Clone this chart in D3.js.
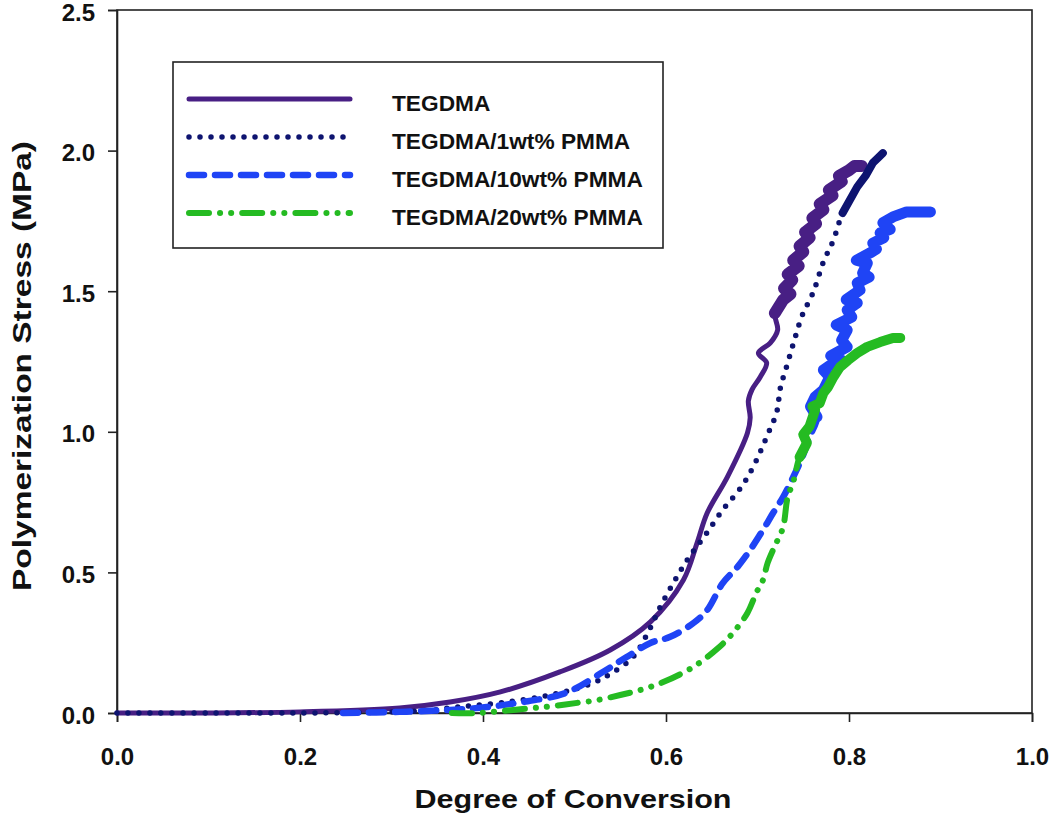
<!DOCTYPE html>
<html>
<head>
<meta charset="utf-8">
<script src="https://cdn.jsdelivr.net/npm/d3@7"></script>
<style>
  html, body { margin: 0; padding: 0; background: #fff; }
  svg { display: block; font-family: "Liberation Sans", Arial, sans-serif; }
</style>
</head>
<body>
<svg id="chart" width="1050" height="836"></svg>
<script>
// ---------------- data ----------------
const seriesNames = ["TEGDMA", "TEGDMA/1wt% PMMA", "TEGDMA/10wt% PMMA", "TEGDMA/20wt% PMMA"];
const xTicks = [0.0, 0.2, 0.4, 0.6, 0.8, 1.0];
const yTicks = [0.0, 0.5, 1.0, 1.5, 2.0, 2.5];

const tegdmaX = [0, 0.1, 0.2, 0.309, 0.364, 0.419, 0.484, 0.539, 0.583, 0.619, 0.634, 0.645, 0.667, 0.689, 0.692, 0.690, 0.694, 0.703, 0.710, 0.701, 0.714, 0.722, 0.719, 0.728, 0.736, 0.729, 0.738, 0.733, 0.745, 0.739, 0.750, 0.746, 0.757, 0.752, 0.764, 0.760, 0.772, 0.768, 0.782, 0.778, 0.792, 0.789, 0.800, 0.806, 0.814];
const tegdmaY = [0, 0.0, 0.004, 0.018, 0.039, 0.075, 0.146, 0.224, 0.324, 0.473, 0.605, 0.711, 0.839, 0.996, 1.05, 1.11, 1.15, 1.195, 1.245, 1.280, 1.316, 1.362, 1.422, 1.469, 1.49, 1.51, 1.54, 1.56, 1.59, 1.61, 1.64, 1.66, 1.69, 1.71, 1.74, 1.76, 1.79, 1.81, 1.84, 1.86, 1.89, 1.91, 1.93, 1.945, 1.945];

const pmma1X = [0, 0.1, 0.2, 0.331, 0.372, 0.419, 0.473, 0.515, 0.539, 0.564, 0.580, 0.593, 0.608, 0.624, 0.643, 0.662, 0.683, 0.698, 0.710, 0.721, 0.725, 0.733, 0.741, 0.749, 0.761, 0.772, 0.783, 0.793, 0.809, 0.818, 0.826, 0.832, 0.837];
const pmma1Y = [0, 0, 0, 0.007, 0.021, 0.036, 0.064, 0.100, 0.139, 0.199, 0.284, 0.373, 0.462, 0.548, 0.633, 0.722, 0.807, 0.893, 0.982, 1.070, 1.156, 1.245, 1.334, 1.415, 1.497, 1.604, 1.682, 1.778, 1.871, 1.91, 1.956, 1.975, 1.991];

const pmma10X = [0.247, 0.309, 0.364, 0.404, 0.437, 0.490, 0.531, 0.557, 0.583, 0.604, 0.630, 0.645, 0.662, 0.678, 0.692, 0.706, 0.717, 0.728, 0.739, 0.749, 0.757, 0.765, 0.758, 0.763, 0.772, 0.779, 0.772, 0.783, 0.792, 0.780, 0.798, 0.792, 0.798, 0.786, 0.803, 0.798, 0.809, 0.797, 0.812, 0.809, 0.822, 0.815, 0.820, 0.808, 0.823, 0.830, 0.826, 0.838, 0.834, 0.845, 0.837, 0.848, 0.863, 0.889];
const pmma10Y = [0, 0.004, 0.011, 0.021, 0.036, 0.071, 0.146, 0.199, 0.249, 0.270, 0.320, 0.366, 0.462, 0.519, 0.580, 0.651, 0.711, 0.768, 0.839, 0.910, 0.982, 1.053, 1.09, 1.124, 1.149, 1.195, 1.22, 1.245, 1.255, 1.27, 1.302, 1.326, 1.362, 1.38, 1.408, 1.433, 1.458, 1.47, 1.504, 1.529, 1.55, 1.565, 1.600, 1.61, 1.636, 1.65, 1.671, 1.69, 1.707, 1.72, 1.743, 1.764, 1.782, 1.782];

const pmma20X = [0.366, 0.393, 0.433, 0.455, 0.477, 0.503, 0.525, 0.550, 0.572, 0.597, 0.630, 0.657, 0.673, 0.689, 0.699, 0.706, 0.711, 0.717, 0.722, 0.728, 0.733, 0.739, 0.746, 0.754, 0.750, 0.757, 0.763, 0.760, 0.768, 0.772, 0.777, 0.783, 0.790, 0.799, 0.809, 0.820, 0.834, 0.848, 0.856];
const pmma20Y = [0, 0, 0.011, 0.018, 0.025, 0.036, 0.046, 0.064, 0.082, 0.110, 0.164, 0.231, 0.284, 0.356, 0.430, 0.473, 0.533, 0.580, 0.615, 0.661, 0.768, 0.821, 0.910, 0.960, 0.99, 1.02, 1.078, 1.09, 1.102, 1.138, 1.159, 1.195, 1.230, 1.255, 1.280, 1.302, 1.319, 1.334, 1.334];

const seriesX = [tegdmaX, pmma1X, pmma10X, pmma20X];
const seriesY = [tegdmaY, pmma1Y, pmma10Y, pmma20Y];

// ---------------- styles ----------------
const colors = ["#481f84", "#0e1470", "#1f44f5", "#25bb22"];
const widths = [5, 5.5, 6.5, 6];
const dashes = [null, "0 11", "15 11", "20 11 0.1 11 0.1 11"];
const noisyFrom = [1.44, 1.85, 1.08, 0.95];   // stress where the trace becomes a noisy band
const noisyWidth = [12, 8, 11, 10];

// ---------------- chart ----------------
const svg = d3.select("#chart");
const x = d3.scaleLinear().domain([0, 1]).range([117, 1032]);
const y = d3.scaleLinear().domain([0, 2.5]).range([713, 10]);
const font = "'Liberation Sans', Arial, sans-serif";

// frame
svg.append("rect")
  .attr("x", x(0)).attr("y", y(2.5))
  .attr("width", x(1) - x(0)).attr("height", y(0) - y(2.5))
  .attr("fill", "none").attr("stroke", "#222").attr("stroke-width", 1.6);

const xAxis = svg.append("g").attr("transform", `translate(0,${y(0)})`)
  .call(d3.axisBottom(x).tickValues(xTicks).tickSize(9).tickPadding(26).tickFormat(d3.format(".1f")));
const yAxis = svg.append("g").attr("transform", `translate(${x(0)},0)`)
  .call(d3.axisLeft(y).tickValues(yTicks).tickSize(9).tickPadding(13).tickFormat(d3.format(".1f")));
[xAxis, yAxis].forEach(g => {
  g.select(".domain").attr("stroke", "#222").attr("stroke-width", 1.6);
  g.selectAll(".tick line").attr("stroke", "#222").attr("stroke-width", 1.6);
  g.selectAll(".tick text").attr("fill", "#111").attr("font-size", 24)
    .attr("font-weight", "bold").attr("font-family", font);
});
yAxis.selectAll(".tick text").attr("dy", "0.42em");

// curves
const line = d3.line().x(d => x(d[0])).y(d => y(d[1])).curve(d3.curveCatmullRom.alpha(0.5));
const plot = svg.append("g");
seriesX.forEach((xs, i) => {
  const pts = xs.map((v, j) => [v, seriesY[i][j]]);
  plot.append("path").datum(pts)
    .attr("d", line)
    .attr("fill", "none")
    .attr("stroke", colors[i])
    .attr("stroke-width", widths[i])
    .attr("stroke-linecap", "round")
    .attr("stroke-linejoin", "round")
    .attr("stroke-dasharray", dashes[i]);
  const startIdx = pts.findIndex(p => p[1] >= noisyFrom[i]);
  if (startIdx > 0) {
    const seg = pts.slice(startIdx - 1);
    plot.append("path").datum(seg)
      .attr("d", d3.line().x(d => x(d[0])).y(d => y(d[1])).curve(d3.curveLinear))
      .attr("fill", "none")
      .attr("stroke", colors[i])
      .attr("stroke-width", noisyWidth[i])
      .attr("stroke-linecap", "round")
      .attr("stroke-linejoin", "round");
  }
});

// legend
const lg = svg.append("g");
lg.append("rect").attr("x", 173).attr("y", 62).attr("width", 490).attr("height", 186)
  .attr("fill", "#fff").attr("stroke", "#222").attr("stroke-width", 1.6);
const rowY = [99, 137, 175, 213];
seriesNames.forEach((name, i) => {
  lg.append("line")
    .attr("x1", 189).attr("x2", 350).attr("y1", rowY[i]).attr("y2", rowY[i])
    .attr("stroke", colors[i]).attr("stroke-width", widths[i])
    .attr("stroke-linecap", "round").attr("stroke-dasharray", dashes[i]);
  lg.append("text")
    .attr("x", 392).attr("y", rowY[i] + 12)
    .attr("font-size", 22.7).attr("font-weight", "bold").attr("font-family", font)
    .attr("fill", "#111").text(name);
});

// axis titles
svg.append("text")
  .attr("x", 573).attr("y", 808).attr("text-anchor", "middle")
  .attr("font-size", 25).attr("font-weight", "bold").attr("font-family", font)
  .attr("textLength", 317).attr("lengthAdjust", "spacingAndGlyphs")
  .attr("fill", "#111").text("Degree of Conversion");
svg.append("text")
  .attr("transform", "translate(31,366) rotate(-90)")
  .attr("text-anchor", "middle")
  .attr("font-size", 26).attr("font-weight", "bold").attr("font-family", font)
  .attr("textLength", 450).attr("lengthAdjust", "spacingAndGlyphs")
  .attr("fill", "#111").text("Polymerization Stress (MPa)");
</script>
</body>
</html>
